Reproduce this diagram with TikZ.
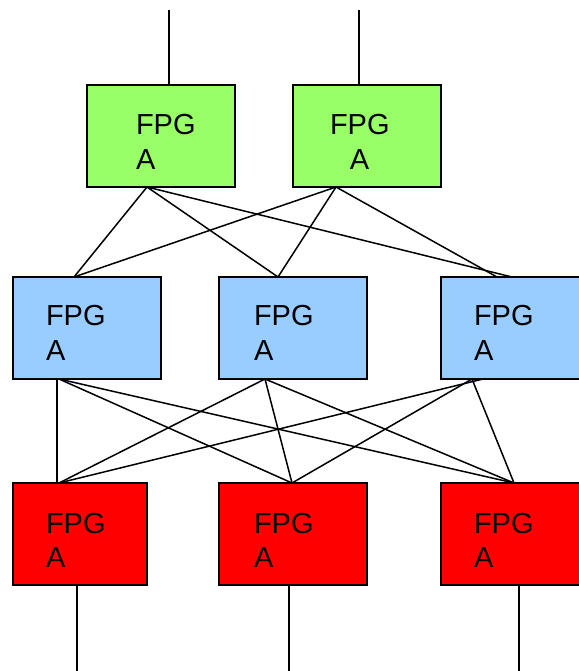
\documentclass[tikz,border=0pt]{standalone}
\usepackage{fontspec}
\setmainfont{Liberation Sans}
\usetikzlibrary{calc}
\definecolor{fpgagreen}{HTML}{99FF66}
\definecolor{fpgablue}{HTML}{99CCFF}
\definecolor{fpgared}{HTML}{FF0000}
\begin{document}
\begin{tikzpicture}[x=1pt,y=-1pt,
  chip/.style={draw=black,line width=1.8pt,rectangle,anchor=north west,
    minimum width=#1,minimum height=102pt,inner sep=0pt,outer sep=0pt},
  chip/.default=148pt,
  lbl/.style={inner sep=0pt,outer sep=0pt,font=\fontsize{29}{34}\selectfont},
  wire/.style={line width=1.5pt}]
\useasboundingbox (0,0) rectangle (578,671);

% top layer
\node[chip,fill=fpgagreen] (g1) at (87,85) {};
\node[chip,fill=fpgagreen] (g2) at (293,85) {};
% middle layer
\node[chip,fill=fpgablue] (b1) at (13,277) {};
\node[chip,fill=fpgablue] (b2) at (219,277) {};
\node[chip,fill=fpgablue] (b3) at (441,277) {};
% bottom layer
\node[chip=134pt,fill=fpgared] (r1) at (13,483) {};
\node[chip,fill=fpgared] (r2) at (219,483) {};
\node[chip,fill=fpgared] (r3) at (441,483) {};

% labels
\node[lbl,anchor=base west] (g1a) at (136,135) {FPG};
\node[lbl,anchor=base west] (g1b) at (136,169) {A};
\node[lbl,anchor=base west] (g2a) at (330,135) {FPG};
\node[lbl,anchor=base] (g2b) at (359.5,169) {A};
\node[lbl,anchor=base west] (b1a) at (46,325) {FPG};
\node[lbl,anchor=base west] (b1b) at (46,360) {A};
\node[lbl,anchor=base west] (b2a) at (254,325) {FPG};
\node[lbl,anchor=base west] (b2b) at (254,360) {A};
\node[lbl,anchor=base west] (b3a) at (474,325) {FPG};
\node[lbl,anchor=base west] (b3b) at (474,360) {A};
\node[lbl,anchor=base west] (r1a) at (46,533) {FPG};
\node[lbl,anchor=base west] (r1b) at (46,567) {A};
\node[lbl,anchor=base west] (r2a) at (254,533) {FPG};
\node[lbl,anchor=base west] (r2b) at (254,567) {A};
\node[lbl,anchor=base west] (r3a) at (474,533) {FPG};
\node[lbl,anchor=base west] (r3b) at (474,567) {A};

% attachment points on the box edges
\coordinate (g1top) at ($(g1.north west)+(82,0)$);
\coordinate (g2top) at ($(g2.north west)+(66,0)$);
\coordinate (g1bot) at ($(g1.south west)+(60,0)$);
\coordinate (g2bot) at ($(g2.south west)+(43,0)$);
\coordinate (b1top) at ($(b1.north west)+(61,0)$);
\coordinate (b2top) at ($(b2.north west)+(59,0)$);
\coordinate (b3topA) at ($(b3.north west)+(56,0)$);
\coordinate (b3topB) at ($(b3.north west)+(71,0)$);
\coordinate (b1botA) at ($(b1.south west)+(44,0)$);
\coordinate (b1botB) at ($(b1.south west)+(46,0)$);
\coordinate (b2bot) at ($(b2.south west)+(46,0)$);
\coordinate (b3botA) at ($(b3.south west)+(31,0)$);
\coordinate (b3botB) at ($(b3.south west)+(42,0)$);
\coordinate (r1topA) at ($(r1.north west)+(44,0)$);
\coordinate (r1topB) at ($(r1.north west)+(46,0)$);
\coordinate (r2top) at ($(r2.north west)+(73,0)$);
\coordinate (r3top) at ($(r3.north west)+(73,0)$);
\coordinate (r1bot) at ($(r1.south west)+(64,0)$);
\coordinate (r2bot) at ($(r2.south west)+(70,0)$);
\coordinate (r3bot) at ($(r3.south west)+(78,0)$);
% free ends of the external links
\coordinate (in1) at (169,10);
\coordinate (in2) at (359,10);
\coordinate (out1) at (77,671);
\coordinate (out2) at (289,671);
\coordinate (out3) at (519,671);

% external links
\draw[wire] (in1) -- (g1top);
\draw[wire] (in2) -- (g2top);
\draw[wire] (r1bot) -- (out1);
\draw[wire] (r2bot) -- (out2);
\draw[wire] (r3bot) -- (out3);

% top to middle
\draw[wire] (g1bot) -- (b1top);
\draw[wire] (g1bot) -- (b2top);
\draw[wire] (g1bot) -- (b3topB);
\draw[wire] (g2bot) -- (b1top);
\draw[wire] (g2bot) -- (b2top);
\draw[wire] (g2bot) -- (b3topA);

% middle to bottom
\draw[wire] (b1botA) -- (r1topA);
\draw[wire] (b1botB) -- (r2top);
\draw[wire] (b1botB) -- (r3top);
\draw[wire] (b2bot) -- (r1topB);
\draw[wire] (b2bot) -- (r2top);
\draw[wire] (b2bot) -- (r3top);
\draw[wire] (b3botB) -- (r1topB);
\draw[wire] (b3botA) -- (r2top);
\draw[wire] (b3botA) -- (r3top);
\end{tikzpicture}
\end{document}
